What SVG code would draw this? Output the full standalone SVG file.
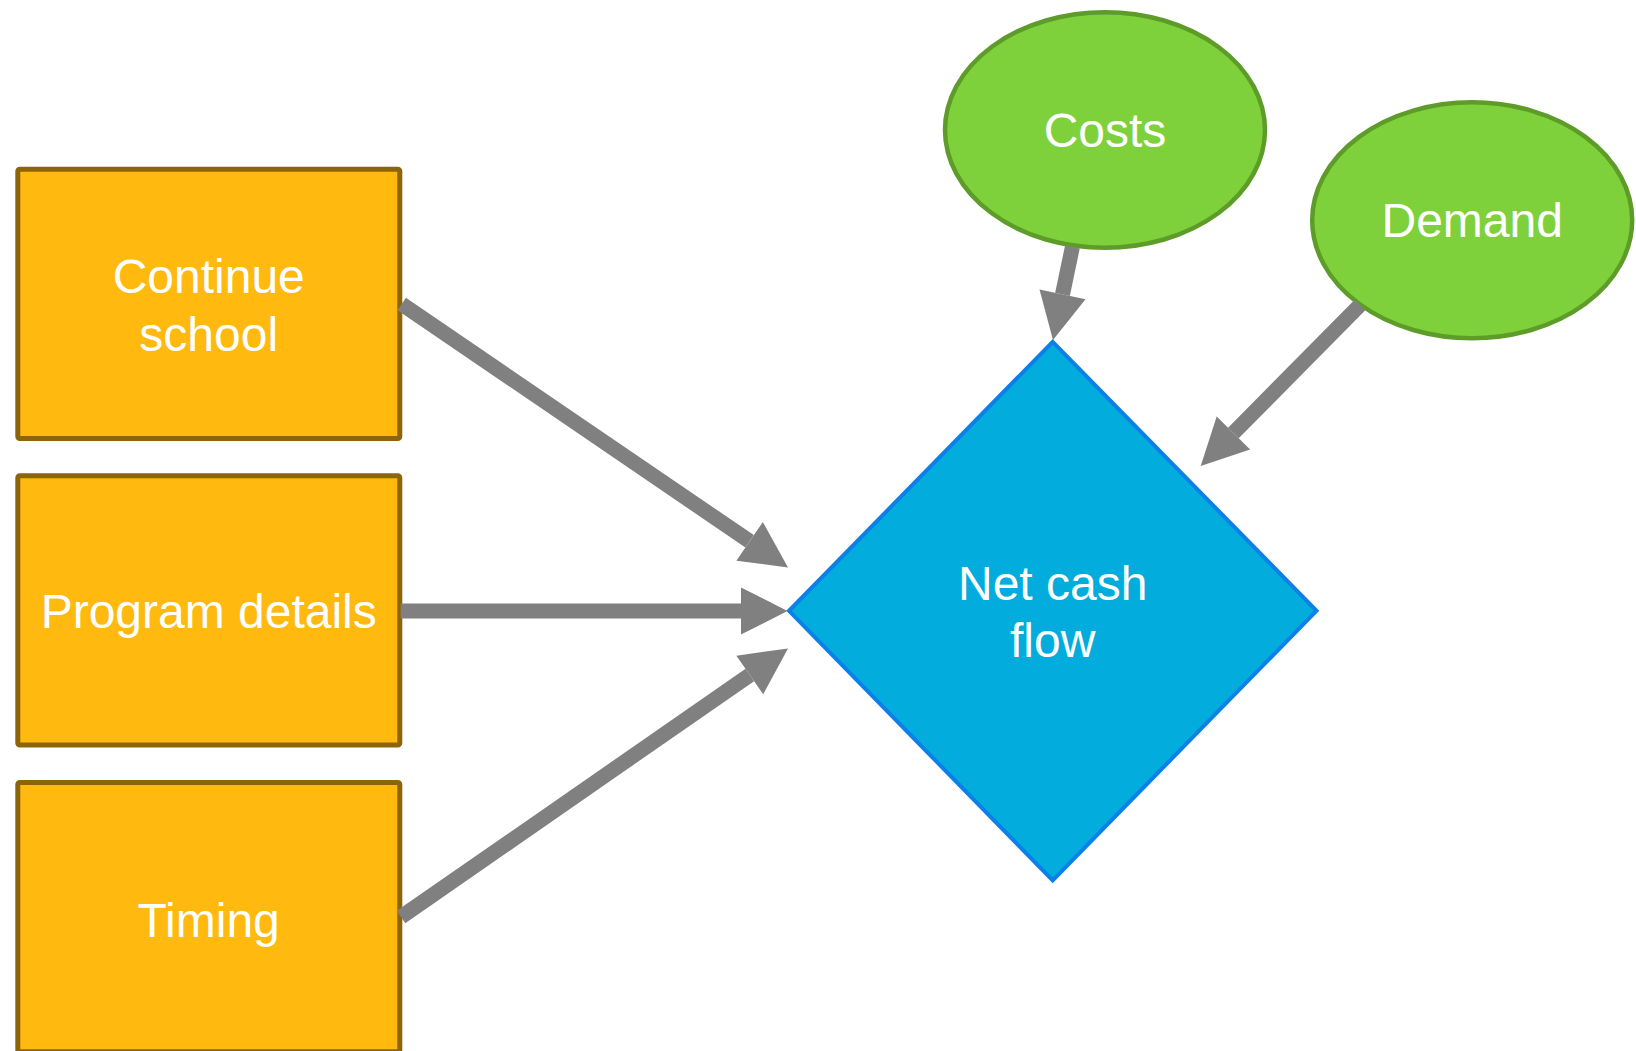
<svg xmlns="http://www.w3.org/2000/svg" width="1636" height="1051" viewBox="0 0 1636 1051">
  <style>
    .box { fill: #FFB90F; stroke: #8B6508; stroke-width: 5; }
    .oval { fill: #7FD13B; stroke: #5E9C2A; stroke-width: 4.5; }
    .dia { fill: #02ACDC; stroke: #0A80E8; stroke-width: 4; stroke-linejoin: miter; }
    .lbl { font-family: "Liberation Sans", Arial, sans-serif; font-size: 48px; fill: #FFFFFF; text-anchor: middle; }
    .edge { stroke: #808080; stroke-width: 15; fill: none; stroke-linecap: butt; }
  </style>
  <defs>
    <marker id="ah" markerUnits="userSpaceOnUse" markerWidth="48" markerHeight="48" viewBox="0 -24 48 48" refX="0" refY="0" orient="auto" overflow="visible">
      <path d="M0,-23.5 L46.5,0 L0,23.5 Z" fill="#808080"/>
    </marker>
  </defs>
  <rect width="1636" height="1051" fill="#FFFFFF"/>

  <g id="node-continue-school">
    <rect class="box" x="17.8" y="169.2" width="382" height="269.3" rx="2"/>
    <text class="lbl" x="208.7" y="292.7">Continue</text>
    <text class="lbl" x="208.7" y="351">school</text>
  </g>
  <g id="node-program-details">
    <rect class="box" x="17.8" y="475.8" width="382" height="269.3" rx="2"/>
    <text class="lbl" x="208.7" y="628">Program details</text>
  </g>
  <g id="node-timing">
    <rect class="box" x="17.8" y="782.5" width="382" height="269.3" rx="2"/>
    <text class="lbl" x="208.7" y="936.7">Timing</text>
  </g>
  <g id="node-costs">
    <ellipse class="oval" cx="1105" cy="130" rx="160" ry="117.8"/>
    <text class="lbl" x="1105" y="147.3">Costs</text>
  </g>
  <g id="node-demand">
    <ellipse class="oval" cx="1472.2" cy="220.3" rx="160" ry="118"/>
    <text class="lbl" x="1472.2" y="237.3">Demand</text>
  </g>
  <g id="node-net-cash-flow">
    <polygon class="dia" points="1052.7,341.8 1316.5,610.8 1052.7,880.3 789,610.8"/>
    <text class="lbl" x="1052.7" y="600">Net cash</text>
    <text class="lbl" x="1052.7" y="657">flow</text>
  </g>

  <g id="connectors">
    <line class="edge" x1="401.7" y1="304" x2="749.6" y2="541.3" marker-end="url(#ah)"/>
    <line class="edge" x1="400.7" y1="611" x2="741" y2="611" marker-end="url(#ah)"/>
    <line class="edge" x1="401" y1="917" x2="749.8" y2="675" marker-end="url(#ah)"/>
    <line class="edge" x1="1072.4" y1="247" x2="1062.5" y2="294.4" marker-end="url(#ah)"/>
    <line class="edge" x1="1360" y1="305" x2="1233.4" y2="433" marker-end="url(#ah)"/>
  </g>
</svg>
